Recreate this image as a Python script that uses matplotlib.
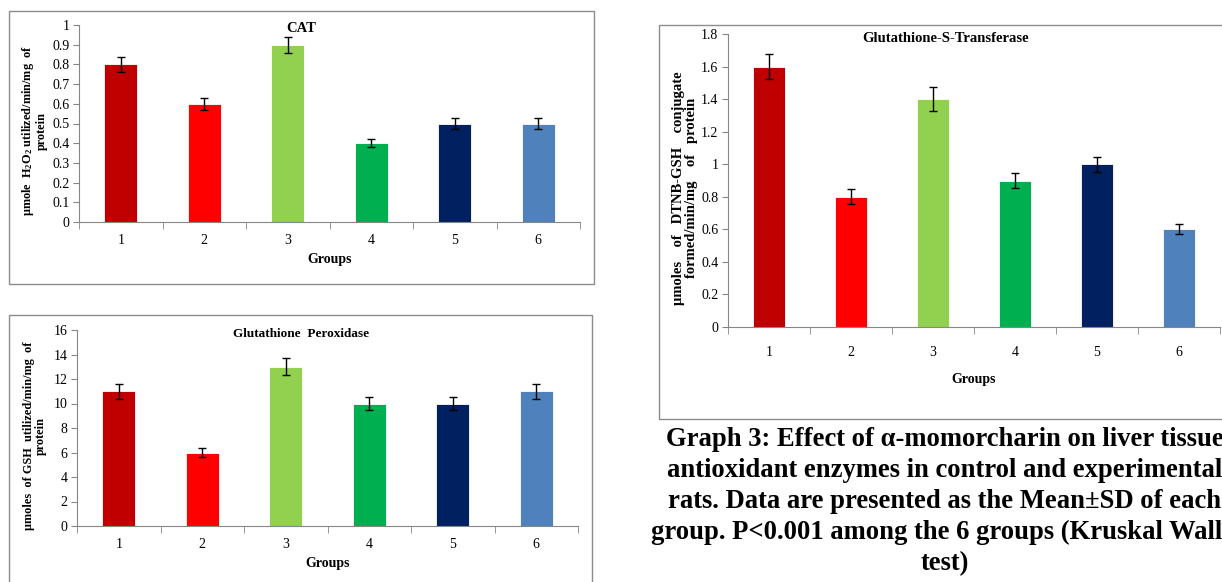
import matplotlib
matplotlib.use("Agg")
import matplotlib.pyplot as plt
from matplotlib.patches import Rectangle
from matplotlib.ticker import FuncFormatter, FixedLocator

plt.rcParams['font.family'] = ['Liberation Serif', 'DejaVu Serif']
plt.rcParams['mathtext.fontset'] = 'custom'
plt.rcParams['mathtext.rm'] = 'Liberation Serif:bold'
plt.rcParams['mathtext.bf'] = 'Liberation Serif:bold'

# data
groups = ['1', '2', '3', '4', '5', '6']
bar_colors = ['#C00000', '#FF0000', '#92D050', '#00B050', '#002060', '#4F81BD']

cat_mean = [0.8, 0.6, 0.9, 0.4, 0.5, 0.5]
cat_sd = [0.04, 0.03, 0.04, 0.02, 0.03, 0.03]

gpx_mean = [11, 6, 13, 10, 10, 11]
gpx_sd = [0.6, 0.35, 0.7, 0.5, 0.5, 0.6]

gst_mean = [1.6, 0.8, 1.4, 0.9, 1.0, 0.6]
gst_sd = [0.075, 0.045, 0.075, 0.045, 0.045, 0.03]

cat_ticks = [0, 0.1, 0.2, 0.3, 0.4, 0.5, 0.6, 0.7, 0.8, 0.9, 1]
gpx_ticks = [0, 2, 4, 6, 8, 10, 12, 14, 16]
gst_ticks = [0, 0.2, 0.4, 0.6, 0.8, 1, 1.2, 1.4, 1.6, 1.8]

caption = ("Graph 3: Effect of \u03b1-momorcharin on liver tissue\n"
           "antioxidant enzymes in control and experimental\n"
           "rats. Data are presented as the Mean\u00b1SD of each\n"
           "group. P<0.001 among the 6 groups (Kruskal Wallis\n"
           "test)")

W, H = 1222, 582
fig = plt.figure(figsize=(W / 100, H / 100), dpi=100)


def px_box(x0, y0, x1, y1):
    # pixel box (top-left origin) -> figure fraction rect
    return [x0 / W, 1 - y1 / H, (x1 - x0) / W, (y1 - y0) / H]


def panel(rect, mean, sd, ticks, tick_pad, label_pad):
    ax = fig.add_axes(rect)
    x = list(range(1, len(groups) + 1))
    ax.bar(x, mean, width=0.4, color=bar_colors, edgecolor='white', linewidth=0.6, zorder=2)
    ax.errorbar(x, mean, yerr=sd, fmt='none', ecolor='black', elinewidth=1,
                capsize=3, capthick=1, zorder=3)
    ax.set_xlim(0.5, len(groups) + 0.5)
    ax.set_ylim(ticks[0], ticks[-1])
    ax.set_yticks(ticks)
    ax.yaxis.set_major_formatter(FuncFormatter(lambda v, p: '%g' % v))
    ax.set_xticks(x)
    ax.set_xticklabels(groups)
    ax.xaxis.set_minor_locator(FixedLocator([i + 0.5 for i in range(len(groups) + 1)]))
    ax.tick_params(axis='x', which='major', length=0, pad=tick_pad, labelsize=10)
    ax.tick_params(axis='x', which='minor', length=5, direction='out', color='#868686')
    ax.tick_params(axis='y', length=4, direction='out', color='#868686', labelsize=10, pad=3)
    for s in ['top', 'right']:
        ax.spines[s].set_visible(False)
    for s in ['left', 'bottom']:
        ax.spines[s].set_color('#868686')
    ax.set_xlabel('Groups', fontweight='bold', fontsize=10, labelpad=label_pad)
    return ax


# panel borders
for bx in [(9, 11, 594, 284), (9, 315, 592, 600), (659, 25, 1240, 419)]:
    r = px_box(*bx)
    fig.patches.append(Rectangle((r[0], r[1]), r[2], r[3], transform=fig.transFigure,
                                 fill=False, edgecolor='#8c8c8c', linewidth=1))

ax1 = panel(px_box(79, 25, 580, 222), cat_mean, cat_sd, cat_ticks, 9, 4)
ax2 = panel(px_box(77, 330, 578, 526), gpx_mean, gpx_sd, gpx_ticks, 9, 4)
ax3 = panel(px_box(728, 34, 1220, 327), gst_mean, gst_sd, gst_ticks, 14, 10)

# panel titles
fig.text(301 / W, 1 - 29 / H, 'CAT', ha='center', va='center', fontweight='bold', fontsize=10.5)
fig.text(301 / W, 1 - 334 / H, 'Glutathione  Peroxidase', ha='center', va='center',
         fontweight='bold', fontsize=9.5)
fig.text(946 / W, 1 - 39 / H, 'Glutathione-S-Transferase', ha='center', va='center',
         fontweight='bold', fontsize=10.5)

# y axis titles
fig.text(34 / W, 1 - 131 / H, 'µmole  $\\mathrm{H_2O_2}$ utilized/min/mg  of\nprotein',
         rotation=90, ha='center', va='center', fontweight='bold', fontsize=8.8, linespacing=1.0)
fig.text(35 / W, 1 - 436 / H, 'µmoles  of GSH  utilized/min/mg  of\nprotein',
         rotation=90, ha='center', va='center', fontweight='bold', fontsize=8.8, linespacing=1.0)
fig.text(685 / W, 1 - 188 / H, 'µmoles    of   DTNB-GSH    conjugate\nformed/min/mg    of   protein',
         rotation=90, ha='center', va='center', fontweight='bold', fontsize=10.5, linespacing=0.95)

fig.text(945 / W, 1 - 427 / H, caption, ha='center', va='top', fontweight='bold',
         fontsize=19.2, linespacing=1.32)

fig.savefig('out.png', dpi=100)
